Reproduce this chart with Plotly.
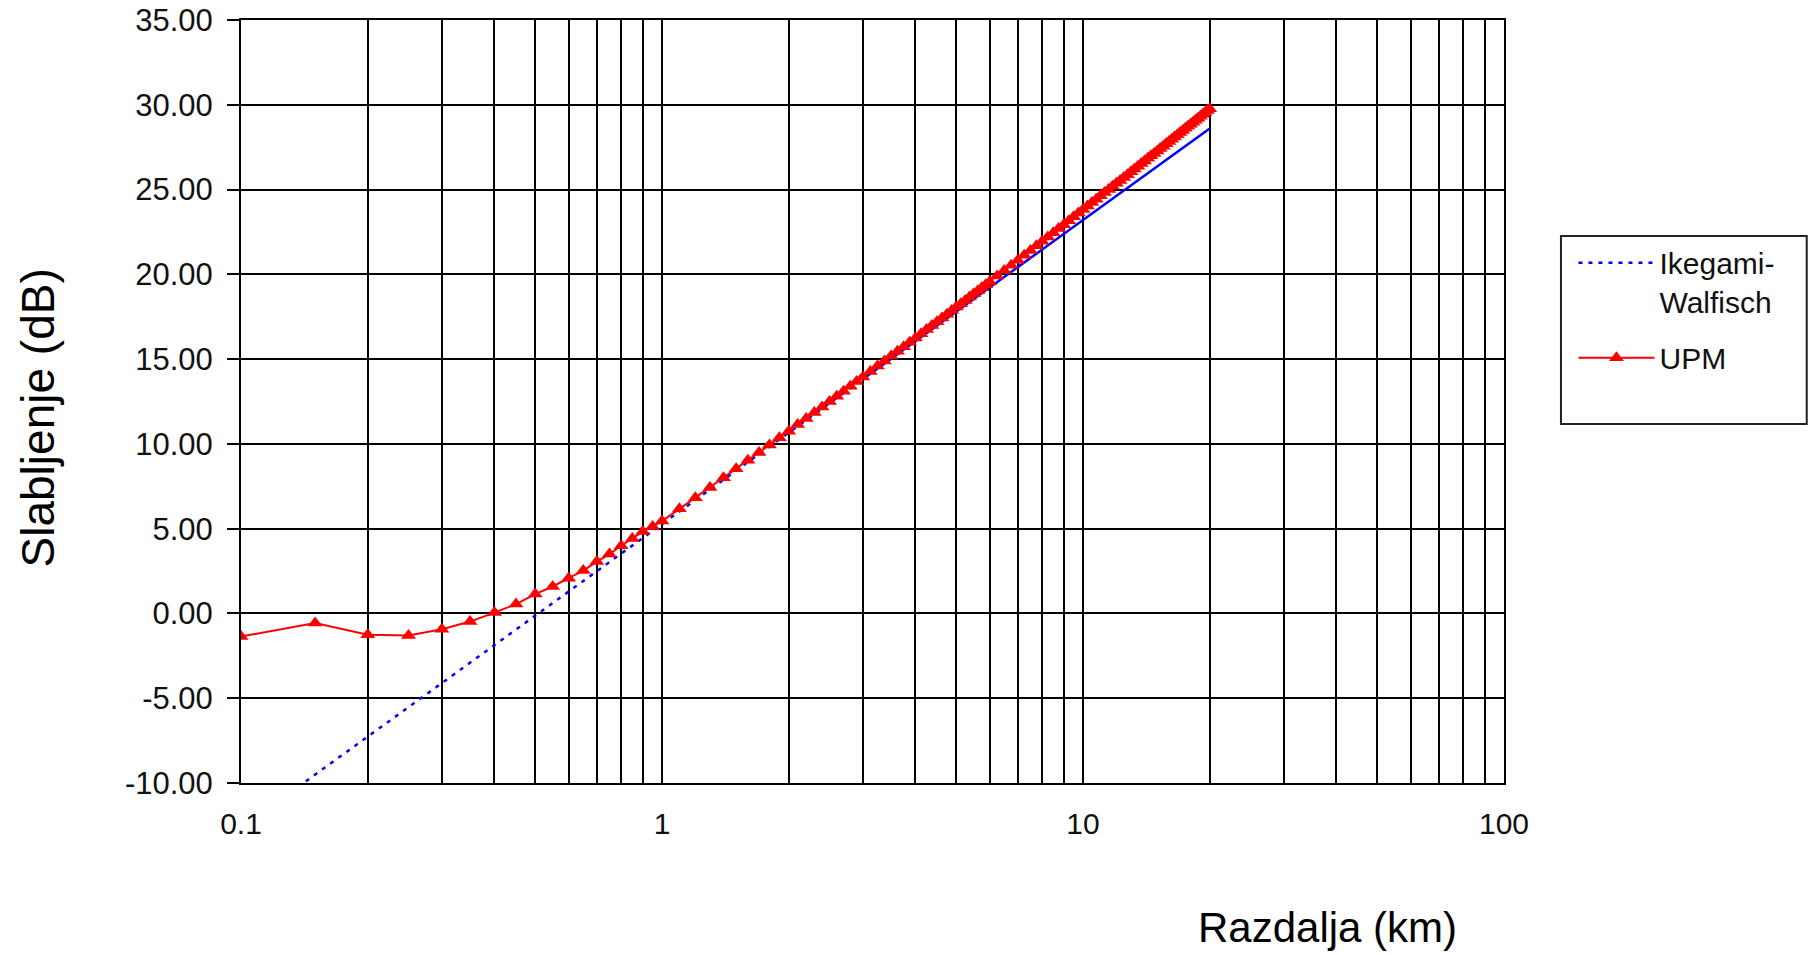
import plotly.graph_objects as go

# Distance (km)
distance_km = [0.10, 0.15, 0.20, 0.25, 0.30, 0.35, 0.40, 0.45, 0.50, 0.55, 0.60, 0.65, 0.70, 0.75, 0.80, 0.85, 0.90, 0.95, 1.00,
               1.1, 1.2, 1.3, 1.4, 1.5, 1.6, 1.7, 1.8, 1.9, 2.0, 2.1, 2.2, 2.3, 2.4, 2.5, 2.6, 2.7, 2.8, 2.9, 3.0,
               3.125, 3.25, 3.375, 3.5, 3.625, 3.75, 3.875, 4.0, 4.125, 4.25, 4.375, 4.5, 4.625, 4.75, 4.875,
               5.0, 5.125, 5.25, 5.375, 5.5, 5.625, 5.75, 5.875, 6.0,
               6.25, 6.5, 6.75, 7.0, 7.25, 7.5, 7.75, 8.0, 8.25, 8.5, 8.75, 9.0, 9.25, 9.5, 9.75, 10.0,
               10.25, 10.5, 10.75, 11, 11.25, 11.5, 11.75, 12, 12.25, 12.5, 12.75, 13, 13.25, 13.5, 13.75, 14, 14.25, 14.5, 14.75, 15,
               15.25, 15.5, 15.75, 16, 16.25, 16.5, 16.75, 17, 17.25, 17.5, 17.75, 18, 18.25, 18.5, 18.75, 19, 19.25, 19.5, 19.75, 20]

# Ikegami-Walfisch attenuation (dB)
ikegami_db = [-12.66, -9.50, -7.26, -5.53, -4.11, -2.90, -1.86, -0.95, -0.13, 0.62, 1.29, 1.92, 2.49, 3.03, 3.53, 4.00, 4.45, 4.87, 5.27,
              6.01, 6.69, 7.31, 7.89, 8.43, 8.93, 9.40, 9.85, 10.27, 10.67, 11.05, 11.41, 11.76, 12.09, 12.40, 12.71, 13.01, 13.29, 13.56, 13.82,
              14.14, 14.45, 14.74, 15.03, 15.30, 15.56, 15.82, 16.07, 16.30, 16.54, 16.76, 16.98, 17.20, 17.40, 17.61,
              17.80, 18.00, 18.18, 18.37, 18.55, 18.72, 18.89, 19.06, 19.22,
              19.54, 19.85, 20.14, 20.42, 20.70, 20.96, 21.22, 21.46, 21.70, 21.93, 22.16, 22.38, 22.59, 22.80, 23.00, 23.20,
              23.39, 23.58, 23.76, 23.94, 24.12, 24.29, 24.46, 24.62, 24.78, 24.94, 25.09, 25.24, 25.39, 25.54, 25.68, 25.82, 25.96, 26.09, 26.23, 26.36,
              26.49, 26.61, 26.74, 26.86, 26.98, 27.10, 27.22, 27.33, 27.45, 27.56, 27.67, 27.78, 27.88, 27.99, 28.09, 28.20, 28.30, 28.40, 28.50, 28.60]

# UPM attenuation (dB)
upm_db = [-1.36, -0.57, -1.26, -1.30, -0.93, -0.48, 0.05, 0.55, 1.14, 1.59, 2.08, 2.53, 3.06, 3.50, 3.99, 4.42, 4.83, 5.13, 5.45,
          6.17, 6.83, 7.43, 8.00, 8.53, 9.03, 9.49, 9.94, 10.36, 10.75, 11.14, 11.50, 11.85, 12.18, 12.50, 12.81, 13.11, 13.40, 13.68, 13.95,
          14.27, 14.59, 14.89, 15.18, 15.46, 15.73, 16.00, 16.25, 16.50, 16.74, 16.98, 17.21, 17.43, 17.65, 17.86,
          18.07, 18.27, 18.46, 18.66, 18.85, 19.03, 19.21, 19.39, 19.56,
          19.90, 20.22, 20.53, 20.83, 21.13, 21.41, 21.68, 21.95, 22.20, 22.45, 22.70, 22.93, 23.16, 23.39, 23.61, 23.82,
          24.03, 24.23, 24.43, 24.63, 24.82, 25.00, 25.19, 25.37, 25.54, 25.71, 25.88, 26.05, 26.21, 26.37, 26.53, 26.68, 26.84, 26.99, 27.13, 27.28,
          27.42, 27.56, 27.70, 27.83, 27.97, 28.10, 28.23, 28.36, 28.48, 28.61, 28.73, 28.85, 28.97, 29.09, 29.21, 29.32, 29.44, 29.55, 29.66, 29.77]

y_ticks = [-10, -5, 0, 5, 10, 15, 20, 25, 30, 35]
y_labels = ["-10.00", "-5.00", "0.00", "5.00", "10.00", "15.00", "20.00", "25.00", "30.00", "35.00"]
x_grid = [0.1, 0.2, 0.3, 0.4, 0.5, 0.6, 0.7, 0.8, 0.9, 1, 2, 3, 4, 5, 6, 7, 8, 9, 10,
          20, 30, 40, 50, 60, 70, 80, 90, 100]
x_labels = {0.1: "0.1", 1: "1", 10: "10", 100: "100"}

FONT = "Liberation Sans, Arial, sans-serif"

split = distance_km.index(3.0)

fig = go.Figure()
fig.add_trace(go.Scatter(
    x=distance_km[:split + 1], y=ikegami_db[:split + 1], mode="lines",
    name="Ikegami-<br>Walfisch", legendgroup="ik",
    line=dict(color="#0000ff", width=2.5, dash="4px,6px"),
))
fig.add_trace(go.Scatter(
    x=distance_km[split:], y=ikegami_db[split:], mode="lines",
    name="Ikegami-Walfisch", legendgroup="ik", showlegend=False,
    line=dict(color="#0000ff", width=2.5),
))
fig.add_trace(go.Scatter(
    x=distance_km, y=upm_db, mode="lines+markers", name="UPM", legendgroup="upm",
    line=dict(color="#ff0000", width=2),
    marker=dict(symbol="triangle-up", size=13, color="#ff0000"),
))

fig.update_xaxes(
    type="log", range=[-1, 2], automargin=False,
    tickvals=x_grid, ticktext=[x_labels.get(v, "") for v in x_grid],
    ticks="", showgrid=True, gridcolor="#000000", gridwidth=2,
    showline=True, linecolor="#000000", linewidth=2, mirror=True,
    tickfont=dict(family=FONT, size=30, color="#111111"),
    ticklabelstandoff=13, ticklabeloverflow="allow", zeroline=False,
)
fig.update_yaxes(
    range=[-10, 35], automargin=False, tickvals=y_ticks, ticktext=y_labels,
    ticks="outside", ticklen=12, tickwidth=2, tickcolor="#000000",
    showgrid=True, gridcolor="#000000", gridwidth=2,
    showline=True, linecolor="#000000", linewidth=2, mirror=True,
    tickfont=dict(family=FONT, size=31, color="#111111"),
    ticklabelstandoff=8, ticklabeloverflow="allow", zeroline=False,
)

fig.add_shape(type="rect", xref="paper", yref="paper",
              x0=1.0451, x1=1.2397, y0=0.4705, y1=0.7169,
              line=dict(color="#222222", width=2), fillcolor="rgba(0,0,0,0)")

fig.add_annotation(text="Razdalja (km)", xref="paper", yref="paper", x=0.86, y=-0.19,
                   xanchor="center", yanchor="middle",
                   showarrow=False, font=dict(family=FONT, size=42, color="#000000"))
fig.add_annotation(text="Slabljenje (dB)", xref="paper", yref="paper", x=-0.1606, y=0.478,
                   xanchor="center", yanchor="middle",
                   textangle=-90, showarrow=False, font=dict(family=FONT, size=46, color="#000000"))

fig.update_layout(
    width=1820, height=955,
    margin=dict(l=241, r=316, t=20, b=172),
    paper_bgcolor="white", plot_bgcolor="white",
    font=dict(family=FONT, color="#111111"),
    legend=dict(x=1.055, y=0.716, xanchor="left", yanchor="top",
                font=dict(family=FONT, size=30, color="#111111"),
                bgcolor="rgba(0,0,0,0)", borderwidth=0,
                itemwidth=76, valign="top", tracegroupgap=14),
)

fig.write_html("out.html", config={"displayModeBar": False},
               post_script="document.body.style.margin='0px';")
